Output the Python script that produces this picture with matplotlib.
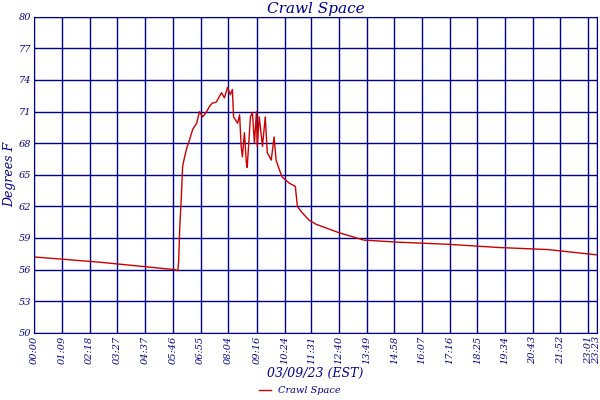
import matplotlib
matplotlib.use("Agg")
import matplotlib.pyplot as plt

minutes = [0,164,350,358,360,363,367,370,375,380,387,395,405,412,420,430,437,444,454,467,474,482,489,494,
           497,507,512,516,519,524,529,531,539,544,549,554,556,561,569,576,581,591,598,603,611,618,636,651,
           656,668,685,703,710,760,822,909,1033,1157,1281,1403]
temps = [57.2,56.7,56.0,55.9,56.7,60.1,63.1,65.8,66.7,67.5,68.3,69.3,69.9,71.0,70.5,71.0,71.5,71.8,71.9,72.8,
         72.3,73.3,72.6,73.1,70.5,69.9,70.7,67.7,66.7,69.0,66.1,65.7,70.5,70.9,68.0,71.0,67.7,70.5,67.7,70.5,
         67.1,66.4,68.6,66.4,65.5,64.8,64.2,63.9,62.0,61.4,60.7,60.3,60.2,59.5,58.8,58.6,58.4,58.1,57.9,57.4]
tick_minutes = [0,69,138,207,277,346,415,484,556,624,691,760,829,898,967,1036,1105,1174,1243,1312,1381,1403]
tick_labels = ["00:00","01:09","02:18","03:27","04:37","05:46","06:55","08:04","09:16","10:24","11:31",
               "12:40","13:49","14:58","16:07","17:16","18:25","19:34","20:43","21:52","23:01","23:23"]
y_ticks = [50,53,56,59,62,65,68,71,74,77,80]

navy = "#00008B"
plt.rcParams["font.family"] = "DejaVu Serif"
fig = plt.figure(figsize=(6,4), dpi=100)
ax = fig.add_axes([0.057, 0.168, 0.938, 0.79])
ax.plot(minutes, temps, color="#CC0000", lw=1, label="Crawl Space")
ax.set_xlim(0, 1403)
ax.set_ylim(50, 80)
ax.set_xticks(tick_minutes)
ax.set_xticklabels(tick_labels, rotation=90, fontsize=7, color=navy, style="italic")
ax.set_yticks(y_ticks)
ax.set_yticklabels([str(v) for v in y_ticks], fontsize=7, color=navy, style="italic")
ax.grid(True, color=navy, lw=1)
ax.tick_params(length=0, pad=2)
for s in ax.spines.values():
    s.set_color(navy)
ax.set_title("Crawl Space", color=navy, style="italic", fontsize=11, pad=3)
ax.set_xlabel("03/09/23 (EST)", color=navy, style="italic", fontsize=9, labelpad=2)
ax.set_ylabel("Degrees F", color=navy, style="italic", fontsize=9, labelpad=2)
fig.legend(loc="lower center", bbox_to_anchor=(0.5, -0.01), frameon=False,
           handlelength=1.2, labelcolor=navy, prop={"style": "italic", "size": 7})
fig.savefig("out.png")
